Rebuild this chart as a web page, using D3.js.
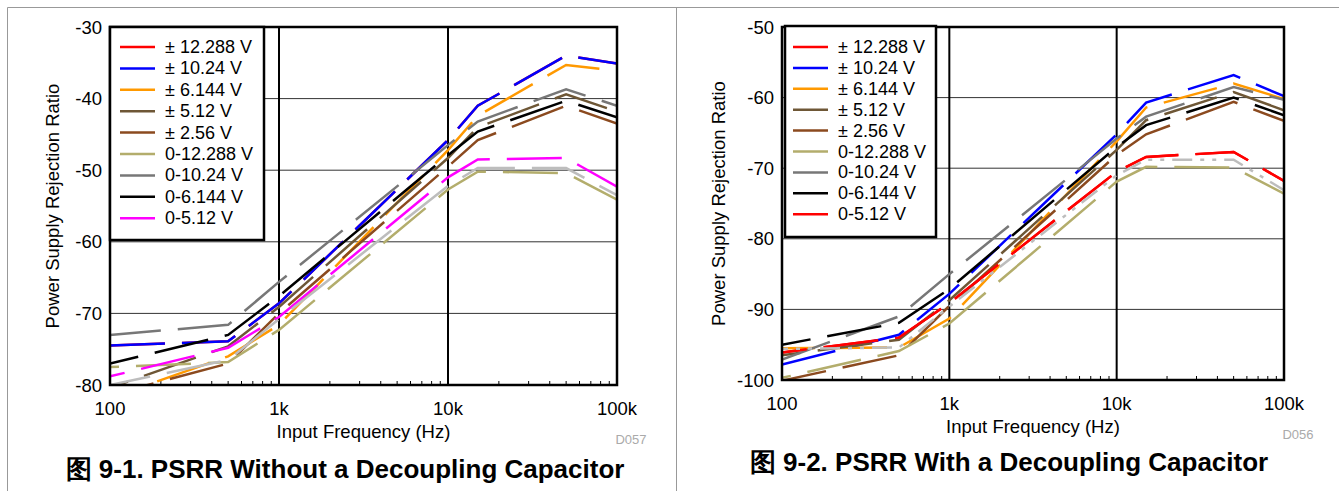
<!DOCTYPE html>
<html>
<head>
<meta charset="utf-8">
<script src="https://cdn.jsdelivr.net/npm/d3@7"></script>
<style>
  body { margin: 0; background: #fff; }
  svg text { font-family: Arial, "Liberation Sans", sans-serif; }
</style>
</head>
<body>
<svg id="chart" width="1339" height="491"></svg>
<script>
// measurement frequencies (Hz)
const freqHz = [100, 500, 1000, 10000, 15000, 50000, 100000];

const seriesLabels = ["± 12.288 V", "± 10.24 V", "± 6.144 V", "± 5.12 V", "± 2.56 V",
	"0-12.288 V", "0-10.24 V", "0-6.144 V", "0-5.12 V", "0-2.56 V"];

const xTickLabels = ["100", "1k", "10k", "100k"];
const leftYTicks = [-80, -70, -60, -50, -40, -30];
const rightYTicks = [-100, -90, -80, -70, -60, -50];

// PSRR (dB), one row per series, columns follow freqHz
const psrrWithoutCap = [
	[-74.5, -73.9, -68.6, -45.8, -41.0, -34.0, -35.1],
	[-74.5, -73.9, -68.6, -45.8, -41.0, -34.0, -35.1],
	[-81.8, -76.0, -71.6, -47.2, -42.4, -35.3, -36.1],
	[-80.4, -74.6, -69.1, -48.3, -44.0, -39.4, -41.8],
	[-81.4, -77.0, -70.0, -49.5, -45.8, -41.0, -43.5],
	[-77.5, -76.8, -72.3, -52.7, -50.2, -50.4, -54.1],
	[-73.0, -71.6, -65.6, -46.5, -43.2, -38.7, -41.0],
	[-77.0, -73.0, -67.6, -47.9, -44.6, -40.3, -42.6],
	[-78.8, -74.8, -70.5, -51.0, -48.5, -48.3, -52.3],
	[-80.0, -76.5, -70.8, -52.2, -49.7, -49.7, -53.5]
];

const psrrWithCap = [
	[-96.1, -94.0, -89.1, -70.5, -68.4, -67.7, -71.8],
	[-97.8, -93.6, -87.8, -65.2, -60.7, -56.8, -59.8],
	[-95.5, -95.4, -91.3, -66.2, -61.4, -58.0, -60.2],
	[-96.5, -94.3, -88.7, -67.4, -63.2, -59.2, -61.8],
	[-100.1, -96.5, -89.5, -68.1, -65.2, -60.6, -63.3],
	[-99.7, -95.9, -92.0, -71.9, -69.8, -69.9, -73.6],
	[-97.1, -91.0, -85.0, -65.8, -62.7, -58.5, -60.3],
	[-95.0, -91.9, -87.1, -67.0, -63.9, -60.0, -62.5],
	[-96.1, -94.0, -89.1, -70.5, -68.4, -67.7, -71.8],
	[-95.6, -95.4, -89.6, -71.0, -68.8, -68.8, -73.1]
];

const leftColors = ["#ff0000", "#0000ff", "#ff9900", "#6e5736", "#8b4a1f",
	"#b3ad6c", "#777777", "#000000", "#ff00ff", "#bdbdbd"];
const rightColors = ["#ff0000", "#0000ff", "#ff9900", "#6e5736", "#8b4a1f",
	"#b3ad6c", "#777777", "#000000", "#ff0000", "#bdbdbd"];

const svg = d3.select("#chart");

// outer panel frames
svg.append("path")
	.attr("d", "M7.5,491 V7.5 H1339 M676.5,7.5 V491")
	.attr("fill", "none")
	.attr("stroke", "#999")
	.attr("stroke-width", 1);

function drawPanel(p) {
	const g = svg.append("g");
	const x = d3.scaleLog().domain([100, 100000]).range([p.left, p.right]);
	const y = d3.scaleLinear().domain([p.yTicks[0], p.yTicks[p.yTicks.length - 1]]).range([p.bottom, p.top]);

	// horizontal grid
	g.selectAll(".hgrid").data(p.yTicks.slice(1, -1)).join("line")
		.attr("x1", p.left).attr("x2", p.right)
		.attr("y1", d => y(d)).attr("y2", d => y(d))
		.attr("stroke", "#333").attr("stroke-width", 1);

	// vertical grid at decades
	g.selectAll(".vgrid").data([1000, 10000]).join("line")
		.attr("x1", d => x(d)).attr("x2", d => x(d))
		.attr("y1", p.top).attr("y2", p.bottom)
		.attr("stroke", "#000").attr("stroke-width", 2);

	// minor ticks along the bottom
	const minor = x.ticks().filter(d => Math.abs(Math.log10(d) % 1) > 1e-6);
	g.selectAll(".minor").data(minor).join("line")
		.attr("x1", d => x(d)).attr("x2", d => x(d))
		.attr("y1", p.bottom).attr("y2", p.bottom - 4)
		.attr("stroke", "#000").attr("stroke-width", 1);

	// clip for series
	const clipId = "clip" + p.id;
	svg.append("clipPath").attr("id", clipId).append("rect")
		.attr("x", p.left).attr("y", p.top)
		.attr("width", p.right - p.left).attr("height", p.bottom - p.top);

	const line = d3.line()
		.x((d, i) => x(freqHz[i]))
		.y(d => y(d));

	g.append("g").attr("clip-path", `url(#${clipId})`)
		.selectAll("path").data(p.data).join("path")
		.attr("d", line)
		.attr("fill", "none")
		.attr("stroke", (d, i) => p.colors[i])
		.attr("stroke-width", 2.5)
		.attr("stroke-dasharray", (d, i) => p.dashes[i])
		.attr("stroke-dashoffset", (d, i) => p.offsets[i]);

	// plot frame
	g.append("rect")
		.attr("x", p.left).attr("y", p.top)
		.attr("width", p.right - p.left).attr("height", p.bottom - p.top)
		.attr("fill", "none").attr("stroke", "#000").attr("stroke-width", 2.5);

	// y tick labels
	g.selectAll(".ylab").data(p.yTicks).join("text")
		.attr("x", p.left - 8).attr("y", d => y(d))
		.attr("text-anchor", "end").attr("dominant-baseline", "central")
		.attr("font-size", 18.5).text(d => d);

	// x tick labels
	g.selectAll(".xlab").data([100, 1000, 10000, 100000]).join("text")
		.attr("x", d => x(d)).attr("y", p.bottom + 23)
		.attr("text-anchor", "middle").attr("dominant-baseline", "central")
		.attr("font-size", 18.5).text((d, i) => xTickLabels[i]);

	// axis titles
	g.append("text")
		.attr("transform", `translate(${p.yTitleX},${(p.top + p.bottom) / 2}) rotate(-90)`)
		.attr("text-anchor", "middle").attr("dominant-baseline", "central")
		.attr("font-size", 18.5).text("Power Supply Rejection Ratio");
	g.append("text")
		.attr("x", (p.left + p.right) / 2).attr("y", p.bottom + 46)
		.attr("text-anchor", "middle").attr("dominant-baseline", "central")
		.attr("font-size", 18.5).text("Input Frequency (Hz)");
	g.append("text")
		.attr("x", p.right + 14).attr("y", p.bottom + 54)
		.attr("text-anchor", "middle").attr("dominant-baseline", "central")
		.attr("font-size", 13).attr("fill", "#aaa").text(p.code);

	// caption
	g.append("text")
		.attr("x", p.captionX).attr("y", p.captionY)
		.attr("text-anchor", "middle").attr("dominant-baseline", "central")
		.attr("font-size", 26).attr("font-weight", "bold").text(p.caption);

	// legend
	const lg = g.append("g");
	lg.append("rect")
		.attr("x", p.leg.x).attr("y", p.leg.y)
		.attr("width", p.leg.w).attr("height", p.leg.h)
		.attr("fill", "#fff").attr("stroke", "#000").attr("stroke-width", 2.5);
	const items = lg.selectAll(".item").data(seriesLabels.slice(0, 9)).join("g")
		.attr("transform", (d, i) => `translate(0,${p.leg.y + p.leg.first + i * p.leg.step})`);
	items.append("line")
		.attr("x1", p.leg.sx1).attr("x2", p.leg.sx2)
		.attr("stroke", (d, i) => p.colors[i]).attr("stroke-width", 2.5);
	items.append("text")
		.attr("x", p.leg.tx).attr("dominant-baseline", "central")
		.attr("font-size", 18).text(d => d);
}

const longDash = "55,17";
drawPanel({
	id: "L", left: 110, right: 617, top: 27, bottom: 385,
	yTicks: leftYTicks, data: psrrWithoutCap, colors: leftColors,
	dashes: d3.range(10).map(() => longDash),
	offsets: [0, 0, 22, 36, 10, 46, 4, 26, 40, 14],
	yTitleX: 52, code: "D057",
	caption: "图 9-1. PSRR Without a Decoupling Capacitor", captionX: 345, captionY: 469,
	leg: { x: 110, y: 27, w: 154, h: 213, first: 20, step: 21.4, sx1: 120, sx2: 155, tx: 165 }
});

drawPanel({
	id: "R", left: 782, right: 1284, top: 27, bottom: 380,
	yTicks: rightYTicks, data: psrrWithCap, colors: rightColors,
	dashes: d3.range(10).map(i => i === 9 ? "20,8,4,8,4,8" : longDash),
	offsets: [30, 0, 22, 36, 10, 46, 4, 26, 30, 14],
	yTitleX: 718, code: "D056",
	caption: "图 9-2. PSRR With a Decoupling Capacitor", captionX: 1009, captionY: 462,
	leg: { x: 785, y: 26, w: 151, h: 211, first: 21, step: 20.9, sx1: 793, sx2: 828, tx: 838 }
});
</script>
</body>
</html>
